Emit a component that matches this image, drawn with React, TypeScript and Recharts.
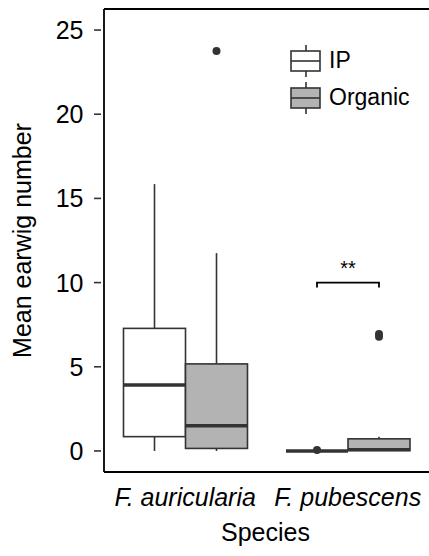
import { ComposedChart, Bar, XAxis, YAxis, Legend } from "recharts";

const species = ["F. auricularia", "F. pubescens"];
const treatments = ["IP", "Organic"];
const treatmentFill = ["#ffffff", "#b3b3b3"];

// box statistics
const ipMin = [0, 0];
const ipQ1 = [0.85, 0];
const ipMedian = [3.92, 0];
const ipQ3 = [7.28, 0];
const ipMax = [15.85, 0];
const ipOutliers = [[], [0.05]];

const orgMin = [0, 0];
const orgQ1 = [0.15, 0.02];
const orgMedian = [1.5, 0.08];
const orgQ3 = [5.17, 0.72];
const orgMax = [11.75, 0.85];
const orgOutliers = [[23.75], [6.78, 6.95]];

const sigLevel = [null, 10];
const sigLabel = ["", "**"];

const yTicks = [0, 5, 10, 15, 20, 25];
const yDomain: [number, number] = [-1.25, 26.25];

const font = "'Liberation Sans', Arial, Helvetica, sans-serif";
const ink = "#333333";

const data = species.map((s, i) => ({
  species: s,
  ip: {
    min: ipMin[i],
    q1: ipQ1[i],
    median: ipMedian[i],
    q3: ipQ3[i],
    max: ipMax[i],
    outliers: ipOutliers[i],
  },
  org: {
    min: orgMin[i],
    q1: orgQ1[i],
    median: orgMedian[i],
    q3: orgQ3[i],
    max: orgMax[i],
    outliers: orgOutliers[i],
  },
  sig: sigLevel[i],
  sigLabel: sigLabel[i],
}));

const BoxShape = (props: any) => {
  const { x, y, width, height, payload, statKey, fill } = props;
  const st = payload[statKey];
  // the bar spans the whole y domain, so its rect gives the value->pixel map
  const sy = (v: number) =>
    y + ((yDomain[1] - v) / (yDomain[1] - yDomain[0])) * height;
  const cx = x + width / 2;
  const sig = statKey === "org" && payload.sig != null;
  return (
    <g>
      <line x1={cx} x2={cx} y1={sy(st.max)} y2={sy(st.q3)} stroke={ink} strokeWidth={1.6} />
      <line x1={cx} x2={cx} y1={sy(st.q1)} y2={sy(st.min)} stroke={ink} strokeWidth={1.6} />
      <rect
        x={x}
        y={sy(st.q3)}
        width={width}
        height={Math.max(0, sy(st.q1) - sy(st.q3))}
        fill={fill}
        stroke={ink}
        strokeWidth={1.6}
      />
      <line x1={x} x2={x + width} y1={sy(st.median)} y2={sy(st.median)} stroke={ink} strokeWidth={3.4} />
      {st.outliers.map((o: number, k: number) => (
        <circle key={k} cx={cx} cy={sy(o)} r={4} fill={ink} />
      ))}
      {sig && (
        <g>
          <path
            d={`M${cx - width} ${sy(payload.sig) + 5} V${sy(payload.sig)} H${cx} V${sy(payload.sig) + 5}`}
            fill="none"
            stroke="#000"
            strokeWidth={1.8}
          />
          <text
            x={cx - width / 2}
            y={sy(payload.sig) - 8}
            textAnchor="middle"
            fontSize={20}
            fontFamily={font}
            fill="#000"
          >
            {payload.sigLabel}
          </text>
        </g>
      )}
    </g>
  );
};

const CountTick = ({ x, y, payload }: any) => (
  <g>
    <line x1={x} x2={x + 7} y1={y} y2={y} stroke={ink} strokeWidth={1.6} />
    <text x={x - 10.5} y={y} dy="0.36em" textAnchor="end" fontSize={25} fontFamily={font} fill="#000">
      {payload.value}
    </text>
  </g>
);

const SpeciesTick = ({ x, y, payload }: any) => (
  <text x={x} y={y + 34} textAnchor="middle" fontStyle="italic" fontSize={25} fontFamily={font} fill="#000">
    {payload.value}
  </text>
);

const LegendKey = ({ fill }: { fill: string }) => (
  <svg width={32} height={34} style={{ display: "block" }}>
    <line x1={16} x2={16} y1={1} y2={33} stroke={ink} strokeWidth={1.6} />
    <rect x={1} y={7} width={29} height={20} fill={fill} stroke={ink} strokeWidth={1.6} />
    <line x1={1} x2={30} y1={17} y2={17} stroke={ink} strokeWidth={1.6} />
  </svg>
);

const LegendContent = () => (
  <div style={{ fontFamily: font, fontSize: 23, color: "#000" }}>
    {treatments.map((t, i) => (
      <div key={t} style={{ display: "flex", alignItems: "center", height: 37 }}>
        <LegendKey fill={treatmentFill[i]} />
        <span style={{ marginLeft: 7 }}>{t}</span>
      </div>
    ))}
  </div>
);

export default function App() {
  return (
    <div style={{ position: "absolute", left: 0, top: 0, background: "#fff" }}>
      <ComposedChart
        width={429}
        height={556}
        data={data}
        margin={{ top: 8, right: 0, bottom: 0, left: 0 }}
        barCategoryGap="12%"
        barGap={0}
      >
        <XAxis
          xAxisId="top"
          orientation="top"
          dataKey="species"
          height={1}
          tick={false}
          tickLine={false}
          axisLine={{ stroke: "#000", strokeWidth: 1.8 }}
        />
        <XAxis
          dataKey="species"
          height={84}
          interval={0}
          tickLine={false}
          tickSize={0}
          tickMargin={0}
          axisLine={{ stroke: "#000", strokeWidth: 1.8 }}
          tick={<SpeciesTick />}
          label={{
            content: ({ viewBox }: any) => (
              <text
                x={viewBox.x + viewBox.width / 2 - 1}
                y={541}
                textAnchor="middle"
                fontSize={25}
                fontFamily={font}
                fill="#000"
              >
                Species
              </text>
            ),
          }}
        />
        <YAxis
          type="number"
          domain={yDomain}
          ticks={yTicks}
          allowDataOverflow
          width={104}
          tickLine={false}
          tickSize={10}
          tickMargin={0}
          axisLine={{ stroke: "#000", strokeWidth: 1.8 }}
          tick={<CountTick />}
          label={{
            content: ({ viewBox }: any) => {
              const cy = viewBox.y + viewBox.height / 2;
              return (
                <text
                  x={31}
                  y={cy}
                  transform={`rotate(-90, 31, ${cy})`}
                  textAnchor="middle"
                  fontSize={25}
                  fontFamily={font}
                  fill="#000"
                >
                  Mean earwig number
                </text>
              );
            },
          }}
        />
        <Legend
          layout="vertical"
          align="center"
          verticalAlign="middle"
          content={<LegendContent />}
          wrapperStyle={{ top: 42, left: 290, width: "auto" }}
        />
        <Bar
          dataKey={() => yDomain}
          name={treatments[0]}
          fill={treatmentFill[0]}
          isAnimationActive={false}
          shape={(p: any) => <BoxShape {...p} statKey="ip" fill={treatmentFill[0]} />}
        />
        <Bar
          dataKey={() => yDomain}
          name={treatments[1]}
          fill={treatmentFill[1]}
          isAnimationActive={false}
          shape={(p: any) => <BoxShape {...p} statKey="org" fill={treatmentFill[1]} />}
        />
      </ComposedChart>
    </div>
  );
}
